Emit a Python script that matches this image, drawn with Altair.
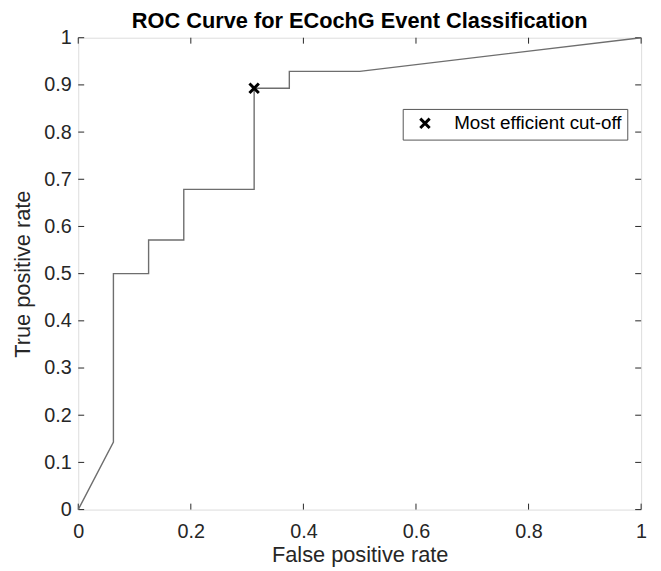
import altair as alt
import pandas as pd

# ROC curve points (false positive rate, true positive rate)
fpr = [0.0, 0.0625, 0.0625, 0.125, 0.125, 0.1875, 0.1875, 0.3125, 0.3125, 0.375, 0.375, 0.5, 1.0]
tpr = [0.0, 0.1429, 0.5, 0.5, 0.5714, 0.5714, 0.6786, 0.6786, 0.8929, 0.8929, 0.9286, 0.9286, 1.0]

# most efficient cut-off point
cut_fpr = [0.3125]
cut_tpr = [0.8929]
cut_label = ["Most efficient cut-off"]

x_ticks = [0, 0.2, 0.4, 0.6, 0.8, 1]
y_ticks = [0, 0.1, 0.2, 0.3, 0.4, 0.5, 0.6, 0.7, 0.8, 0.9, 1]

W, H = 569, 477
FONT = "Liberation Sans"
AX = "#262626"
TL = 6
XPATH = "M-1,-1L1,1M1,-1L-1,1"

curve_df = pd.DataFrame({"fpr": fpr, "tpr": tpr, "order": list(range(len(fpr)))})
cut_df = pd.DataFrame({"fpr": cut_fpr, "tpr": cut_tpr, "label": cut_label})
xt_df = pd.DataFrame({"v": x_ticks})
yt_df = pd.DataFrame({"v": y_ticks})

xscale = alt.Scale(domain=[0, 1], nice=False, zero=False)
yscale = alt.Scale(domain=[0, 1], nice=False, zero=False)

xaxis = alt.Axis(values=x_ticks, format="~g", title="False positive rate", grid=False,
                 domain=False, ticks=False, tickSize=0, labelPadding=12,
                 labelFontSize=20, labelFont=FONT, labelColor=AX,
                 titleFontSize=22, titleFont=FONT, titleFontWeight="normal",
                 titleColor=AX, titlePadding=3, labelFlush=False)
yaxis = alt.Axis(values=y_ticks, format="~g", title="True positive rate", grid=False,
                 domain=False, ticks=False, tickSize=0, labelPadding=7,
                 labelFontSize=20, labelFont=FONT, labelColor=AX,
                 titleFontSize=22, titleFont=FONT, titleFontWeight="normal",
                 titleColor=AX, titlePadding=9, labelFlush=False)

curve = alt.Chart(curve_df).mark_line(color="#6e6e6e", strokeWidth=1.4).encode(
    x=alt.X("fpr:Q", scale=xscale, axis=xaxis),
    y=alt.Y("tpr:Q", scale=yscale, axis=yaxis),
    order="order:Q",
)

cut = alt.Chart(cut_df).mark_point(shape=XPATH, filled=False, strokeWidth=3, size=90, opacity=1).encode(
    x=alt.X("fpr:Q", scale=xscale),
    y=alt.Y("tpr:Q", scale=yscale),
    color=alt.Color("label:N", scale=alt.Scale(range=["black"]),
                    legend=alt.Legend(title=None, orient="none", legendX=328, legendY=72,
                                      padding=5, strokeColor="#555555", fillColor="white",
                                      cornerRadius=0, labelFontSize=19, labelFont=FONT,
                                      labelColor="black", labelLimit=400,
                                      labelExpr="datum.label + '\u00a0\u00a0'",
                                      symbolType=XPATH, symbolStrokeWidth=3, symbolSize=90,
                                      symbolStrokeColor="black", symbolFillColor="transparent",
                                      labelOffset=20, symbolOffset=8)),
)

tick_bottom = alt.Chart(xt_df).mark_rule(color=AX, strokeWidth=1).encode(
    x=alt.X("v:Q", scale=xscale), y=alt.value(H), y2=alt.value(H - TL))
tick_top = alt.Chart(xt_df).mark_rule(color=AX, strokeWidth=1).encode(
    x=alt.X("v:Q", scale=xscale), y=alt.value(0), y2=alt.value(TL))
tick_left = alt.Chart(yt_df).mark_rule(color=AX, strokeWidth=1).encode(
    y=alt.Y("v:Q", scale=yscale), x=alt.value(0), x2=alt.value(TL))
tick_right = alt.Chart(yt_df).mark_rule(color=AX, strokeWidth=1).encode(
    y=alt.Y("v:Q", scale=yscale), x=alt.value(W), x2=alt.value(W - TL))

chart = alt.layer(tick_bottom, tick_top, tick_left, tick_right, curve, cut).properties(
    width=W, height=H,
    title=alt.TitleParams("ROC Curve for ECochG Event Classification", fontSize=22,
                          font=FONT, fontWeight="bold", color="black", anchor="middle", offset=-5),
    autosize=alt.AutoSizeParams(type="none"),
    padding={"left": 71, "top": 27, "right": 12, "bottom": 55},
).configure_view(
    stroke=AX, strokeWidth=1
).configure(background="white")

chart.save("out.html", embed_options={"renderer": "svg", "actions": False})
